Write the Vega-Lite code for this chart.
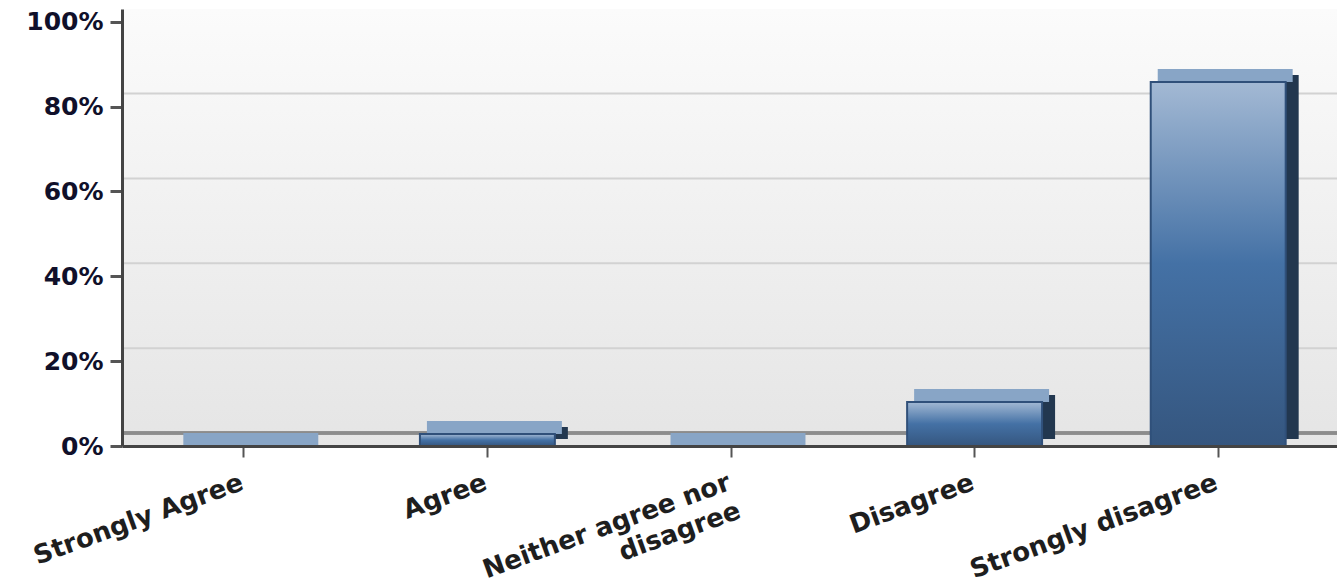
{
  "$schema": "https://vega.github.io/schema/vega-lite/v6.json",
  "width": 1218,
  "height": 437,
  "autosize": "none",
  "padding": {"left": 122, "top": 9, "right": 0, "bottom": 138},
  "background": "#ffffff",
  "config": {
    "view": {
      "stroke": null,
      "fill": {
        "gradient": "linear", "x1": 0, "y1": 0, "x2": 0, "y2": 1,
        "stops": [{"offset": 0, "color": "#fbfbfb"}, {"offset": 1, "color": "#e5e5e5"}]
      }
    }
  },
  "datasets": {
    "answers": [
      {"answer": "Strongly Agree", "pct": 0},
      {"answer": "Agree", "pct": 2.8},
      {"answer": "Neither agree nor disagree", "pct": 0},
      {"answer": "Disagree", "pct": 10.4},
      {"answer": "Strongly disagree", "pct": 85.8}
    ],
    "grid": [{"t": 20}, {"t": 40}, {"t": 60}, {"t": 80}]
  },
  "layer": [
    {
      "data": {"name": "grid"},
      "mark": {"type": "rule", "color": "#d2d2d2", "strokeWidth": 2, "xOffset": 13, "yOffset": -13},
      "encoding": {
        "y": {
          "field": "t", "type": "quantitative", "title": null,
          "scale": {"domain": [0, 103], "nice": false},
          "axis": {
            "zindex": 1,
            "values": [0, 20, 40, 60, 80, 100],
            "labelExpr": "datum.value + '%'",
            "grid": false,
            "domainColor": "#444444", "domainWidth": 3,
            "tickColor": "#555555", "tickWidth": 3, "tickSize": 12,
            "labelPadding": 7,
            "labelFont": "DejaVu Sans", "labelFontWeight": "bold", "labelFontSize": 25,
            "labelColor": "#10102a"
          }
        }
      }
    },
    {
      "data": {"name": "grid"},
      "mark": {"type": "rule", "color": "#8c8c8c", "strokeWidth": 3, "xOffset": 13, "yOffset": -13},
      "encoding": {
        "y": {"datum": 0, "type": "quantitative"}
      }
    },
    {
      "data": {"name": "answers"},
      "mark": {"type": "bar", "color": "#22374f", "xOffset": 13, "yOffset": -7, "y2Offset": -7},
      "encoding": {
        "x": {
          "field": "answer", "type": "nominal", "sort": null, "title": null,
          "scale": {"paddingInner": 0.446},
          "axis": {
            "zindex": 1,
            "domainColor": "#444444", "domainWidth": 3,
            "tickColor": "#555555", "tickWidth": 2, "tickSize": 11,
            "labelAngle": -20, "labelAlign": "right", "labelBaseline": "top",
            "labelPadding": 12, "labelOffset": -6,
            "labelFont": "DejaVu Sans", "labelFontWeight": "bold", "labelFontSize": 26,
            "labelColor": "#1e1e1e", "labelLimit": 0, "labelLineHeight": 30,
            "labelExpr": "datum.label == 'Neither agree nor disagree' ? ['Neither agree nor', 'disagree'] : datum.label",
            "encode": {"labels": {"update": {"letterSpacing": {"value": 1}}}}
          }
        },
        "y": {"field": "pct", "type": "quantitative"}
      }
    },
    {
      "data": {"name": "answers"},
      "mark": {"type": "bar", "color": "#88a5c6", "xOffset": 7, "yOffset": -13, "y2Offset": 0},
      "encoding": {
        "x": {"field": "answer", "type": "nominal", "sort": null},
        "y": {"field": "pct", "type": "quantitative"},
        "y2": {"field": "pct"}
      }
    },
    {
      "data": {"name": "answers"},
      "mark": {
        "type": "bar",
        "stroke": "#30507a",
        "strokeWidth": 2,
        "fill": {
          "gradient": "linear", "x1": 0, "y1": 0, "x2": 0, "y2": 1,
          "stops": [
            {"offset": 0, "color": "#a3b9d4"},
            {"offset": 0.5, "color": "#4471a5"},
            {"offset": 1, "color": "#35567f"}
          ]
        }
      },
      "encoding": {
        "x": {"field": "answer", "type": "nominal", "sort": null},
        "y": {"field": "pct", "type": "quantitative"}
      }
    }
  ]
}
